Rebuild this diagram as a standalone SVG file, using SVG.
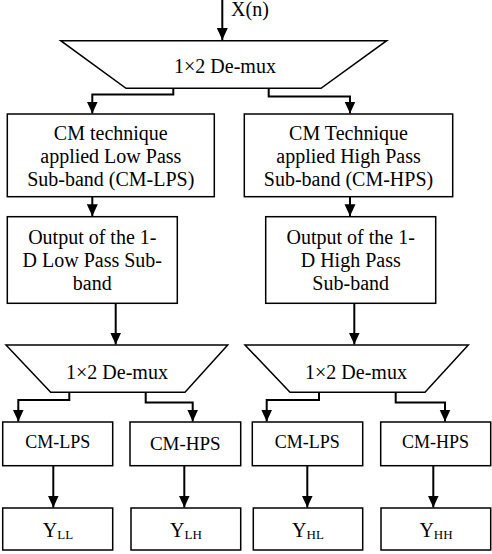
<svg xmlns="http://www.w3.org/2000/svg" width="492" height="554" viewBox="0 0 492 554">
<defs>
<style>
.box{fill:#fff;stroke:#000;stroke-width:1.5}
.t{font-family:"Liberation Serif","Times New Roman",serif;font-size:20px;fill:#000;text-anchor:middle}
.s{font-size:18px}
.conn{fill:none;stroke:#000;stroke-width:2}
</style>
<marker id="ah" markerUnits="userSpaceOnUse" markerWidth="12" markerHeight="12" viewBox="0 0 12 12" refX="12" refY="6" orient="auto">
<path d="M0,0.5 L12,6 L0,11.5 z" fill="#000"/>
</marker>
</defs>
<rect width="492" height="554" fill="#fff"/>

<g id="input-label"><text class="t" x="250" y="16">X(n)</text></g>

<g id="demux-top">
<polygon class="box" points="60.7,40.7 386.7,40.7 321,88.3 126,88.3"/>
<text class="t" x="225" y="73">1×2 De-mux</text>
</g>

<g id="cm-lps-box">
<rect class="box" x="7.3" y="114" width="207" height="82.7"/>
<text class="t" x="110.8" y="140">CM technique</text>
<text class="t" x="110.8" y="163">applied Low Pass</text>
<text class="t" x="110.8" y="186">Sub-band (CM-LPS)</text>
</g>

<g id="cm-hps-box">
<rect class="box" x="244.3" y="114" width="208.4" height="82.7"/>
<text class="t" x="348.5" y="140">CM Technique</text>
<text class="t" x="348.5" y="163">applied High Pass</text>
<text class="t" x="348.5" y="186">Sub-band (CM-HPS)</text>
</g>

<g id="out-low">
<rect class="box" x="7.3" y="216.7" width="170" height="86.6"/>
<text class="t" x="92.3" y="243.5">Output of the 1-</text>
<text class="t" x="92.3" y="266.5">D Low Pass Sub-</text>
<text class="t" x="92.3" y="289.5">band</text>
</g>

<g id="out-high">
<rect class="box" x="265.7" y="216.7" width="170" height="86.6"/>
<text class="t" x="350.7" y="243.5">Output of the 1-</text>
<text class="t" x="350.7" y="266.5">D High Pass</text>
<text class="t" x="350.7" y="289.5">Sub-band</text>
</g>

<g id="demux-left">
<polygon class="box" points="6,345 227.7,345 185,392.3 50.7,392.3"/>
<text class="t" x="117" y="378.5">1×2 De-mux</text>
</g>

<g id="demux-right">
<polygon class="box" points="245,345 468.3,345 425,392.3 290,392.3"/>
<text class="t" x="356" y="378.5">1×2 De-mux</text>
</g>

<g id="ll-cm-lps">
<rect class="box" x="2.7" y="422" width="110" height="43.7"/>
<text class="t s" x="57.7" y="448">CM-LPS</text>
</g>
<g id="lh-cm-hps">
<rect class="box" x="130" y="422" width="110.7" height="43.7"/>
<text class="t" x="185.3" y="450" style="font-size:19px">CM-HPS</text>
</g>
<g id="hl-cm-lps">
<rect class="box" x="252.3" y="422" width="110.4" height="43.7"/>
<text class="t s" x="307.3" y="448">CM-LPS</text>
</g>
<g id="hh-cm-hps">
<rect class="box" x="380.7" y="422" width="110" height="43.7"/>
<text class="t s" x="435.5" y="448">CM-HPS</text>
</g>

<g id="y-ll">
<rect class="box" x="2.7" y="508" width="110" height="42"/>
<text class="t" x="58" y="537">Y<tspan font-size="13" dy="2">LL</tspan></text>
</g>
<g id="y-lh">
<rect class="box" x="131" y="508" width="109.7" height="42"/>
<text class="t" x="186" y="537">Y<tspan font-size="13" dy="2">LH</tspan></text>
</g>
<g id="y-hl">
<rect class="box" x="253.3" y="508" width="109.4" height="42"/>
<text class="t" x="308" y="537">Y<tspan font-size="13" dy="2">HL</tspan></text>
</g>
<g id="y-hh">
<rect class="box" x="381" y="508" width="109.7" height="42"/>
<text class="t" x="436" y="537">Y<tspan font-size="13" dy="2">HH</tspan></text>
</g>

<g id="connectors" class="conn">
<path class="conn" d="M222.3,0 V40" marker-end="url(#ah)"/>
<path class="conn" d="M173.3,88.3 V94.5 H92.3 V113.5" marker-end="url(#ah)"/>
<path class="conn" d="M268.7,88.3 V96.5 H350 V113.5" marker-end="url(#ah)"/>
<path class="conn" d="M92.3,196.7 V216.2" marker-end="url(#ah)"/>
<path class="conn" d="M350,196.7 V216.2" marker-end="url(#ah)"/>
<path class="conn" d="M115.7,303.3 V344.5" marker-end="url(#ah)"/>
<path class="conn" d="M354.3,303.3 V344.5" marker-end="url(#ah)"/>
<path class="conn" d="M69.3,392.3 V400 H18.3 V421.5" marker-end="url(#ah)"/>
<path class="conn" d="M145.7,392.3 V402.5 H192.7 V421.5" marker-end="url(#ah)"/>
<path class="conn" d="M319,392.3 V400 H266.7 V421.5" marker-end="url(#ah)"/>
<path class="conn" d="M395.7,392.3 V402.5 H445 V421.5" marker-end="url(#ah)"/>
<path class="conn" d="M53.3,465.7 V507.5" marker-end="url(#ah)"/>
<path class="conn" d="M184.3,465.7 V507.5" marker-end="url(#ah)"/>
<path class="conn" d="M307.3,465.7 V507.5" marker-end="url(#ah)"/>
<path class="conn" d="M433.3,465.7 V507.5" marker-end="url(#ah)"/>
</g>
</svg>
